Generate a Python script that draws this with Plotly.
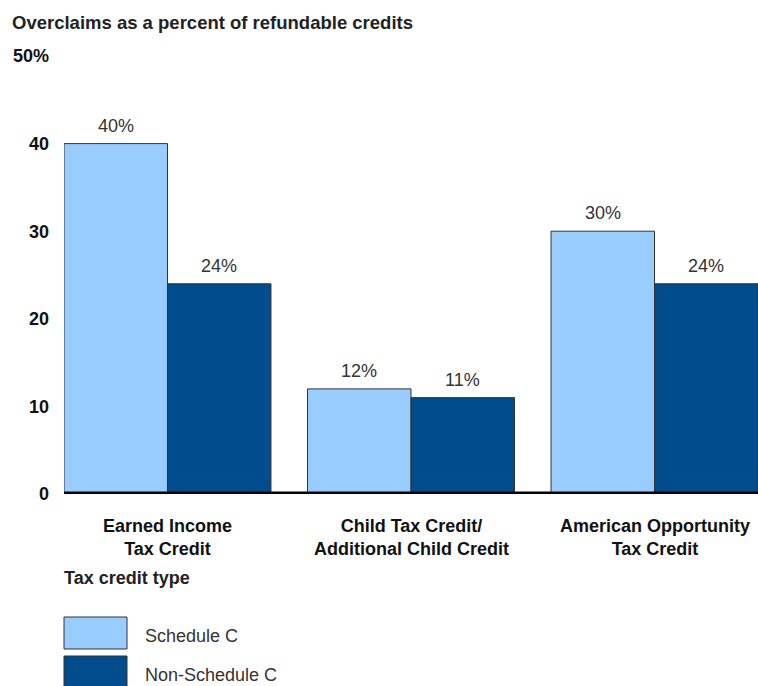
import plotly.graph_objects as go

categories = ["Earned Income<br>Tax Credit", "Child Tax Credit/<br>Additional Child Credit", "American Opportunity<br>Tax Credit"]
schedule_c = [40, 12, 30]
non_schedule_c = [24, 11, 24]
series_names = ["Schedule C", "Non-Schedule C"]
colors = ["#99CCFF", "#004C8D"]
tick_vals = [0, 10, 20, 30, 40, 50]
tick_text = ["0", "10", "20", "30", "40", "50%"]

FONT = "Liberation Sans, Arial, sans-serif"
xs = list(range(len(categories)))

W, H = 758, 686
ml, mr, mt, mb = 64, 0, 56, 192
pw, ph = W - ml - mr, H - mt - mb
def px_to_paper_x(px):
    return (px - ml) / pw
def px_to_paper_y(py):
    return (H - mb - py) / ph

fig = go.Figure()
for name, vals, col in zip(series_names, [schedule_c, non_schedule_c], colors):
    fig.add_trace(go.Bar(
        x=xs, y=vals, name=name, marker=dict(color=col, line=dict(color="#333333", width=1)),
        showlegend=False, hoverinfo="skip",
    ))

annotations = []
offsets = [-0.2125, 0.2125]
for off, vals in zip(offsets, [schedule_c, non_schedule_c]):
    for i, v in enumerate(vals):
        annotations.append(dict(x=i + off, y=v, xref="x", yref="y", text=f"{v}%",
                                showarrow=False, yanchor="bottom", yshift=6,
                                font=dict(family=FONT, size=18, color="#333333")))
for i, c in enumerate(categories):
    annotations.append(dict(x=i, y=px_to_paper_y(514), xref="x", yref="paper", text=f"<b>{c}</b>",
                            showarrow=False, yanchor="top", xanchor="center",
                            font=dict(family=FONT, size=18, color="#111111")))

def px_text(x, y, text, size, color, xanchor="left"):
    annotations.append(dict(x=px_to_paper_x(x), y=px_to_paper_y(y), xref="paper", yref="paper",
                            text=text, showarrow=False, xanchor=xanchor, yanchor="middle",
                            font=dict(family=FONT, size=size, color=color)))

px_text(10, 22, "<b>Overclaims as a percent of refundable credits</b>", 18.5, "#222222")
px_text(62, 578, "<b>Tax credit type</b>", 18, "#222222")

shapes = []
legend_y = [617, 656]
for name, col, yy in zip(series_names, colors, legend_y):
    shapes.append(dict(type="rect", xref="paper", yref="paper",
                       x0=px_to_paper_x(64), x1=px_to_paper_x(127),
                       y0=px_to_paper_y(yy + 32), y1=px_to_paper_y(yy),
                       fillcolor=col, line=dict(color="#333333", width=1)))
    px_text(143, yy + 19, name, 18, "#333333")

shapes.append(dict(type="line", xref="paper", yref="y", x0=0, x1=1, y0=0, y1=0,
                   line=dict(color="#000000", width=5)))

fig.update_layout(
    width=W, height=H, margin=dict(l=ml, r=mr, t=mt, b=mb),
    paper_bgcolor="white", plot_bgcolor="white",
    barmode="group", bargap=0.15, bargroupgap=0,
    xaxis=dict(range=[-0.425, 2.425], showticklabels=False, showgrid=False, zeroline=False, showline=False, ticks=""),
    yaxis=dict(range=[0, 50], tickvals=tick_vals, ticktext=tick_text, showgrid=False, zeroline=False,
               showline=False, ticks="", ticklabelstandoff=14,
               tickfont=dict(family=FONT, size=18, color="#111111", weight="bold")),
    annotations=annotations, shapes=shapes,
)

fig.write_html("out.html", config={"displayModeBar": False})
with open("out.html", "r", encoding="utf-8") as f:
    html = f.read()
html = html.replace("<body>", '<body style="margin:0;padding:0;overflow:hidden">', 1)
with open("out.html", "w", encoding="utf-8") as f:
    f.write(html)
